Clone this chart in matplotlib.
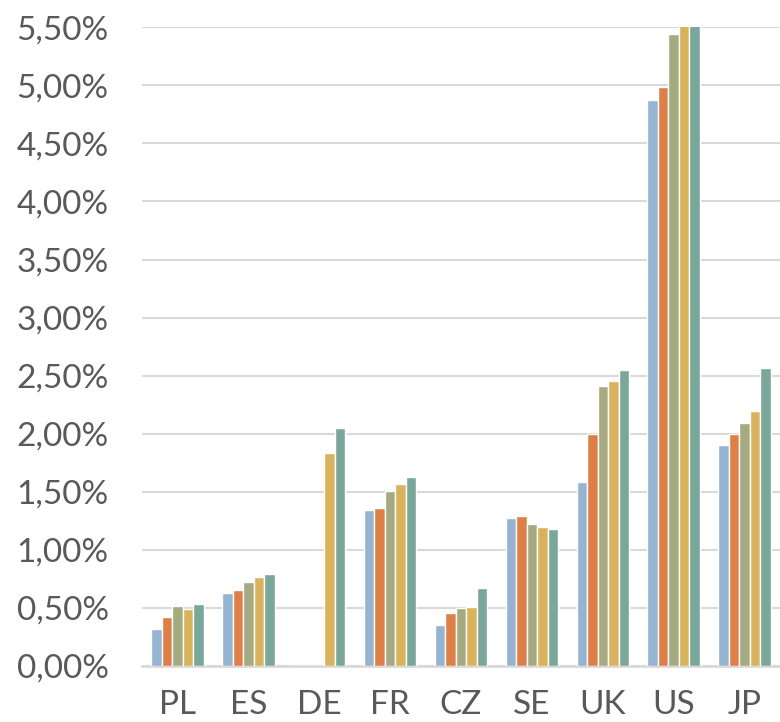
import matplotlib
matplotlib.use('Agg')
import matplotlib.pyplot as plt
import numpy as np

# Country categories and five series (values in %)
countries = ['PL', 'ES', 'DE', 'FR', 'CZ', 'SE', 'UK', 'US', 'JP']
series_1 = [0.32, 0.63, 0.0, 1.34, 0.35, 1.27, 1.58, 4.87, 1.90]
series_2 = [0.42, 0.65, 0.0, 1.36, 0.46, 1.29, 2.00, 4.99, 2.00]
series_3 = [0.52, 0.72, 0.0, 1.51, 0.50, 1.22, 2.41, 5.44, 2.09]
series_4 = [0.49, 0.77, 1.83, 1.57, 0.51, 1.20, 2.45, 5.55, 2.20]
series_5 = [0.53, 0.79, 2.05, 1.63, 0.67, 1.18, 2.55, 5.60, 2.57]
y_ticks = [0.0, 0.5, 1.0, 1.5, 2.0, 2.5, 3.0, 3.5, 4.0, 4.5, 5.0, 5.5]

colors = ['#95b4d2', '#de7f47', '#a5aa80', '#d9b25c', '#7ba79b']

plt.rcParams['font.family'] = ['Lato', 'DejaVu Sans']

fig = plt.figure(figsize=(7.8, 7.22), dpi=100)
ax = fig.add_axes([0.182, 0.0776, 0.818, 0.8846])

x = np.arange(len(countries))
width = 0.148
all_series = [series_1, series_2, series_3, series_4, series_5]
for i, (vals, c) in enumerate(zip(all_series, colors)):
    ax.bar(x + (i - 2) * width, vals, width, color=c,
           edgecolor='white', linewidth=1.0, zorder=3)

ax.set_xlim(-0.5, len(countries) - 0.5)
ax.set_ylim(0, 5.5)
ax.set_yticks(y_ticks)
ax.set_yticklabels([f'{v:.2f}%'.replace('.', ',') for v in y_ticks])
ax.set_xticks(x)
ax.set_xticklabels(countries)

ax.grid(axis='y', color='#d9d9d9', linewidth=1.5, zorder=0)
ax.set_axisbelow(True)
for side in ['top', 'right', 'left']:
    ax.spines[side].set_visible(False)
ax.spines['bottom'].set_color('#d9d9d9')
ax.spines['bottom'].set_linewidth(2)

ax.tick_params(axis='both', length=0, labelsize=24, labelcolor='#595959')
ax.tick_params(axis='x', pad=17)
ax.tick_params(axis='y', pad=24)

plt.savefig('out.png', dpi=100)
